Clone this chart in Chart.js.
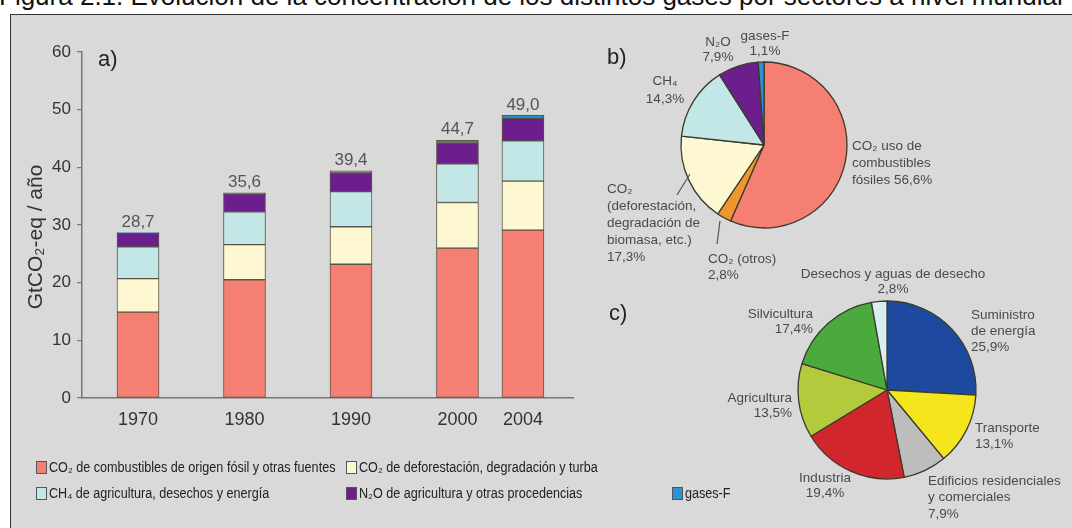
<!DOCTYPE html>
<html><head><meta charset="utf-8">
<script src="https://cdn.jsdelivr.net/npm/chart.js@4"></script>
<style>
html,body{margin:0;padding:0;background:#fff;width:1072px;height:528px;overflow:hidden;font-family:"Liberation Sans",Arial,sans-serif;}
#title{position:absolute;left:-1px;top:-19px;font-size:26px;line-height:30px;color:#111;white-space:nowrap;}
#frame{position:absolute;left:10px;top:14px;width:1100px;height:560px;background:#d9d9d9;border-left:1.5px solid #333;border-top:1.5px solid #333;}
canvas{position:absolute;}
.lbl{position:absolute;white-space:nowrap;color:#4a4a4a;font-size:13.5px;}
.panel{position:absolute;font-size:22px;color:#222;line-height:24px;}
.leg{position:absolute;white-space:nowrap;font-size:14px;color:#222;line-height:16px;transform-origin:left center;transform:scaleX(0.9);}
.box{position:absolute;width:9px;height:11px;border:1px solid #555;}
#ytitle{position:absolute;left:35px;top:237px;font-size:21px;color:#333;white-space:nowrap;line-height:24px;transform:translate(-50%,-50%) rotate(-90deg);}
svg{position:absolute;left:0;top:0;}
</style></head>
<body>
<div id="title">Figura 2.1. Evolución de la concentración de los distintos gases por sectores a nivel mundial</div>
<div id="frame"></div>
<canvas id="bars" width="1072" height="528" style="left:0;top:0"></canvas>
<canvas id="pieB" width="180" height="180" style="left:674px;top:55px"></canvas>
<canvas id="pieC" width="190" height="190" style="left:792px;top:295px"></canvas>
<svg width="1072" height="528"><g stroke="#555" stroke-width="1.2">
<line x1="677" y1="195" x2="690" y2="174"/>
<line x1="717" y1="244" x2="720" y2="221"/>
</g></svg>
<div id="ytitle">GtCO₂-eq / año</div>
<div id="labels"></div>
<script>
// ---- data ----
const years = [1970, 1980, 1990, 2000, 2004];
const totalLabels = ['28,7', '35,6', '39,4', '44,7', '49,0'];
const co2Fossil = [14.9, 20.5, 23.2, 26.0, 29.1];
const co2Defor  = [5.8, 6.1, 6.5, 7.9, 8.5];
const ch4       = [5.5, 5.7, 6.1, 6.7, 7.0];
const n2o       = [2.4, 3.1, 3.3, 3.7, 3.9];
const fGases    = [0.1, 0.2, 0.3, 0.4, 0.5];
const seriesNames = ['CO₂ de combustibles de origen fósil y otras fuentes', 'CO₂ de deforestación, degradación y turba', 'CH₄ de agricultura, desechos y energía', 'N₂O de agricultura y otras procedencias', 'gases-F'];
const yTicks = [0, 10, 20, 30, 40, 50, 60];

const gasNames  = ['CO₂ uso de combustibles fósiles', 'CO₂ (otros)', 'CO₂ (deforestación, degradación de biomasa, etc.)', 'CH₄', 'N₂O', 'gases-F'];
const gasShares = [56.6, 2.8, 17.3, 14.3, 7.9, 1.1];
const sectorNames  = ['Suministro de energía', 'Transporte', 'Edificios residenciales y comerciales', 'Industria', 'Agricultura', 'Silvicultura', 'Desechos y aguas de desecho'];
const sectorShares = [25.9, 13.1, 7.9, 19.4, 13.5, 17.4, 2.8];

// ---- styles ----
const cRed='#f47f72', cYel='#fdf7d2', cCyan='#c3e7e6', cPur='#6c1f8c', cBlue='#2a93d6';
const gasColors = [cRed, '#f0962e', cYel, cCyan, cPur, cBlue];
const sectorColors = ['#1d4a9e', '#f5e51c', '#bdbdbd', '#d1262b', '#b3ca3c', '#4aab3c', '#d8eef1'];
const FONT = '"Liberation Sans", Arial, sans-serif';
Chart.defaults.font.family = FONT;

// slot index along the compressed time axis (last interval drawn shorter)
const slots = years.map((y, i) => i < 4 ? i : 3 + (y - 2000) / 4 * 0.615);

const mk = (arr) => arr.map((v, i) => ({x: slots[i], y: v}));
const seriesData = [co2Fossil, co2Defor, ch4, n2o, fGases];
const seriesColors = [cRed, cYel, cCyan, cPur, cBlue];

const totalsPlugin = {
  id: 'totals',
  afterDatasetsDraw(chart) {
    const ctx = chart.ctx;
    const meta = chart.getDatasetMeta(chart.data.datasets.length - 1);
    ctx.save();
    ctx.font = '17px ' + FONT; ctx.fillStyle = '#555';
    ctx.textAlign = 'center'; ctx.textBaseline = 'bottom';
    meta.data.forEach((bar, i) => ctx.fillText(totalLabels[i], bar.x, bar.y - 2));
    ctx.restore();
  }
};

new Chart(document.getElementById('bars'), {
  type: 'bar',
  data: {
    datasets: seriesData.map((d, i) => ({
      label: seriesNames[i], data: mk(d), backgroundColor: seriesColors[i],
      borderColor: '#5a5446', borderWidth: 1, borderSkipped: false, barThickness: 42
    }))
  },
  options: {
    responsive: false, animation: false, events: [],
    layout: {padding: {left: 21, top: 52, right: 1072 - 573, bottom: 528 - 398 - 30}},
    plugins: {legend: {display: false}, tooltip: {enabled: false}},
    scales: {
      x: {
        type: 'linear', stacked: true, offset: false, min: -0.526, max: 4.085,
        afterBuildTicks: s => { s.ticks = slots.map(v => ({value: v})); },
        afterFit: s => { s.height = 30; },
        grid: {display: false, drawTicks: false},
        border: {display: true, color: '#777', width: 1.5},
        ticks: {autoSkip: false, maxRotation: 0, padding: 11, font: {size: 18}, color: '#333',
                callback: (v, i) => String(years[i])}
      },
      y: {
        stacked: true, min: 0, max: 60,
        afterBuildTicks: s => { s.ticks = yTicks.map(v => ({value: v})); },
        afterFit: s => { s.width = 61; },
        grid: {drawOnChartArea: false, tickLength: 5, color: '#777', lineWidth: 1.2},
        border: {display: true, color: '#777', width: 1.5},
        ticks: {padding: 6, font: {size: 17}, color: '#333'}
      }
    }
  },
  plugins: [totalsPlugin]
});

function pie(id, names, vals, colors, r) {
  new Chart(document.getElementById(id), {
    type: 'pie',
    data: {labels: names, datasets: [{data: vals, backgroundColor: colors, borderColor: '#3d3a2c', borderWidth: 1.3, radius: r}]},
    options: {responsive: false, animation: false, events: [], plugins: {legend: {display: false}, tooltip: {enabled: false}}}
  });
}
pie('pieB', gasNames, gasShares, gasColors, 83);
pie('pieC', sectorNames, sectorShares, sectorColors, 89);

// ---- text labels ----
const pct = v => v.toFixed(1).replace('.', ',') + '%';
const L = document.getElementById('labels');
function lbl(lines, x, y, align, lh) {
  const d = document.createElement('div');
  d.className = 'lbl';
  d.style.lineHeight = lh + 'px';
  d.style.textAlign = align;
  d.style.top = (y - lh / 2) + 'px';
  if (align === 'left') d.style.left = x + 'px';
  else if (align === 'right') d.style.right = (1072 - x) + 'px';
  else { d.style.left = x + 'px'; d.style.transform = 'translateX(-50%)'; }
  d.innerHTML = lines.join('<br>');
  L.appendChild(d);
}
function panel(t, x, y) {
  const d = document.createElement('div'); d.className = 'panel';
  d.style.left = x + 'px'; d.style.top = (y - 12) + 'px'; d.textContent = t; L.appendChild(d);
}
panel('a)', 98, 59); panel('b)', 607, 57); panel('c)', 609, 313);

lbl(['N₂O', pct(gasShares[4])], 718, 41, 'center', 15);
lbl(['gases-F', pct(gasShares[5])], 765, 35, 'center', 15);
lbl(['CH₄', pct(gasShares[3])], 665, 81, 'center', 18);
lbl(['CO₂ uso de', 'combustibles', 'fósiles ' + pct(gasShares[0])], 852, 145, 'left', 17);
lbl(['CO₂', '(deforestación,', 'degradación de', 'biomasa, etc.)', pct(gasShares[2])], 607, 188, 'left', 17);
lbl(['CO₂ (otros)', pct(gasShares[1])], 708, 259, 'left', 16);

lbl([sectorNames[6], pct(sectorShares[6])], 893, 273, 'center', 15);
lbl(['Silvicultura', pct(sectorShares[5])], 813, 313, 'right', 15);
lbl(['Agricultura', pct(sectorShares[4])], 792, 397, 'right', 15);
lbl(['Industria', pct(sectorShares[3])], 825, 477, 'center', 15);
lbl(['Edificios residenciales', 'y comerciales', pct(sectorShares[2])], 928, 481, 'left', 16.5);
lbl(['Transporte', pct(sectorShares[1])], 975, 428, 'left', 16);
lbl(['Suministro', 'de energía', pct(sectorShares[0])], 971, 315, 'left', 16);

// ---- legend ----
const legPos = [[36, 467], [346, 467], [36, 493], [346, 493], [672, 493]];
seriesNames.forEach((n, i) => {
  const [x, y] = legPos[i];
  const b = document.createElement('div'); b.className = 'box';
  b.style.left = x + 'px'; b.style.top = (y - 6) + 'px'; b.style.background = seriesColors[i];
  L.appendChild(b);
  const t = document.createElement('div'); t.className = 'leg';
  t.style.left = (x + 13) + 'px'; t.style.top = (y - 8) + 'px'; t.textContent = n;
  L.appendChild(t);
});
</script>
</body></html>
